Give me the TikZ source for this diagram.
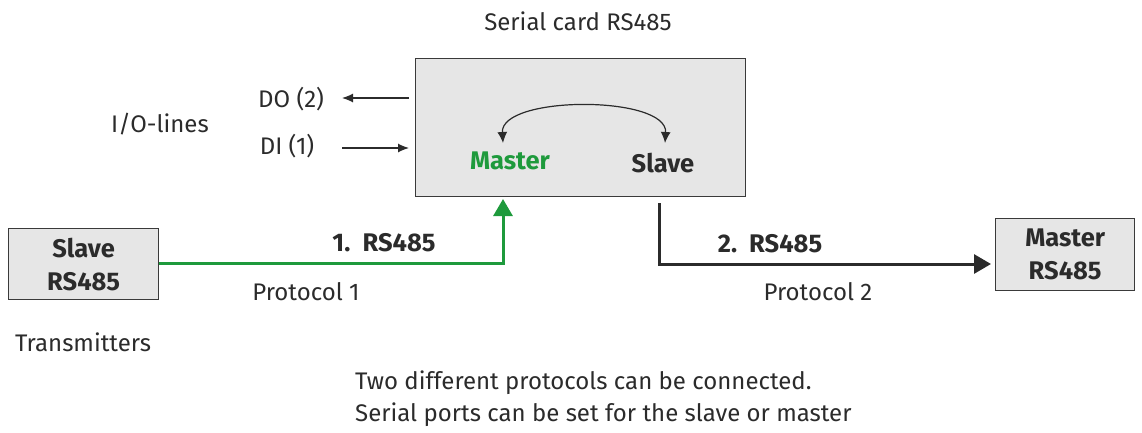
\documentclass[tikz,border=0pt]{standalone}
\usepackage{fontspec}
\setmainfont{Fira Sans}
\usetikzlibrary{arrows.meta}
\definecolor{grn}{HTML}{1E9A3C}
\definecolor{txt}{HTML}{2B2B2B}
\definecolor{boxfill}{HTML}{E6E6E6}
\definecolor{boxline}{HTML}{3A3A3A}
\tikzset{
  lbl/.style={font=\fontsize{24}{28}\selectfont, text=txt, inner sep=0pt},
  blbl/.style={font=\fontsize{25.5}{30}\selectfont\bfseries, text=txt, inner sep=0pt},
  card/.style={draw=boxline, line width=1.3pt, fill=boxfill},
  thin/.style={draw=txt, line width=1.2pt, -{Latex[length=11pt,width=9pt]}},
  thick/.style={line width=3pt, -{Triangle[length=17pt,width=19pt]}}
}
\begin{document}
\begin{tikzpicture}[x=1pt,y=-1pt]
\useasboundingbox (0,0) rectangle (1142,432);
% main card
\node[card, minimum width=330pt, minimum height=138pt, anchor=north west] (card) at (415,58) {};
\node[lbl] (title) at (578,21) {Serial card RS485};
\node[blbl, text=grn] (m) at (510,161) {Master};
\node[blbl] (s) at (663,163) {Slave};
\coordinate (ca) at (503,143);
\coordinate (cb) at (665,143);
\draw[draw=txt, line width=1.2pt, {Latex[length=11pt,width=10pt]}-{Latex[length=11pt,width=10pt]}] (ca) .. controls (500,95) and (668,95) .. (cb);
% IO
\node[lbl] (io) at (160,124) {I/O-lines};
\node[lbl] (do) at (291,99) {DO (2)};
\node[lbl] (di) at (287,146) {DI (1)};
\coordinate (doR) at (409,98);
\coordinate (doL) at (342,98);
\coordinate (diR) at (409,148);
\coordinate (diL) at (342,148);
\draw[thin] (doR) -- (doL);
\draw[thin] (diL) -- (diR);
% left box
\node[card, minimum width=150pt, minimum height=71pt, anchor=north west] (sl) at (8,228) {};
\node[blbl, align=center, font=\fontsize{25.5}{33}\selectfont\bfseries] at (sl.center) {Slave\\RS485};
\node[lbl] (tr) at (83,342) {Transmitters};
% right box
\node[card, minimum width=139pt, minimum height=72pt, anchor=north west] (ms) at (995,218) {};
\node[blbl, align=center, font=\fontsize{25.5}{33}\selectfont\bfseries] at (ms.center) {Master\\RS485};
% green link
\coordinate (gtip) at (503,199);
\draw[thick, draw=grn] (sl.east |- 0,263) -- (503,263) -- (gtip);
\node[blbl] (r1) at (384,243) {1.\ \ RS485};
\node[lbl] (p1) at (306,292) {Protocol 1};
% black link
\coordinate (bstart) at (659,203);
\coordinate (btip) at (991,264);
\draw[thick, draw=txt] (bstart) -- (659,264) -- (btip);
\node[blbl] (r2) at (770,244) {2.\ \ RS485};
\node[lbl] (p2) at (818,292) {Protocol 2};
% bottom text
\node[lbl, anchor=west] (t1) at (355,383) {Two different protocols can be connected.};
\node[lbl, anchor=west] (t2) at (355,415) {Serial ports can be set for the slave or master};
\end{tikzpicture}
\end{document}
